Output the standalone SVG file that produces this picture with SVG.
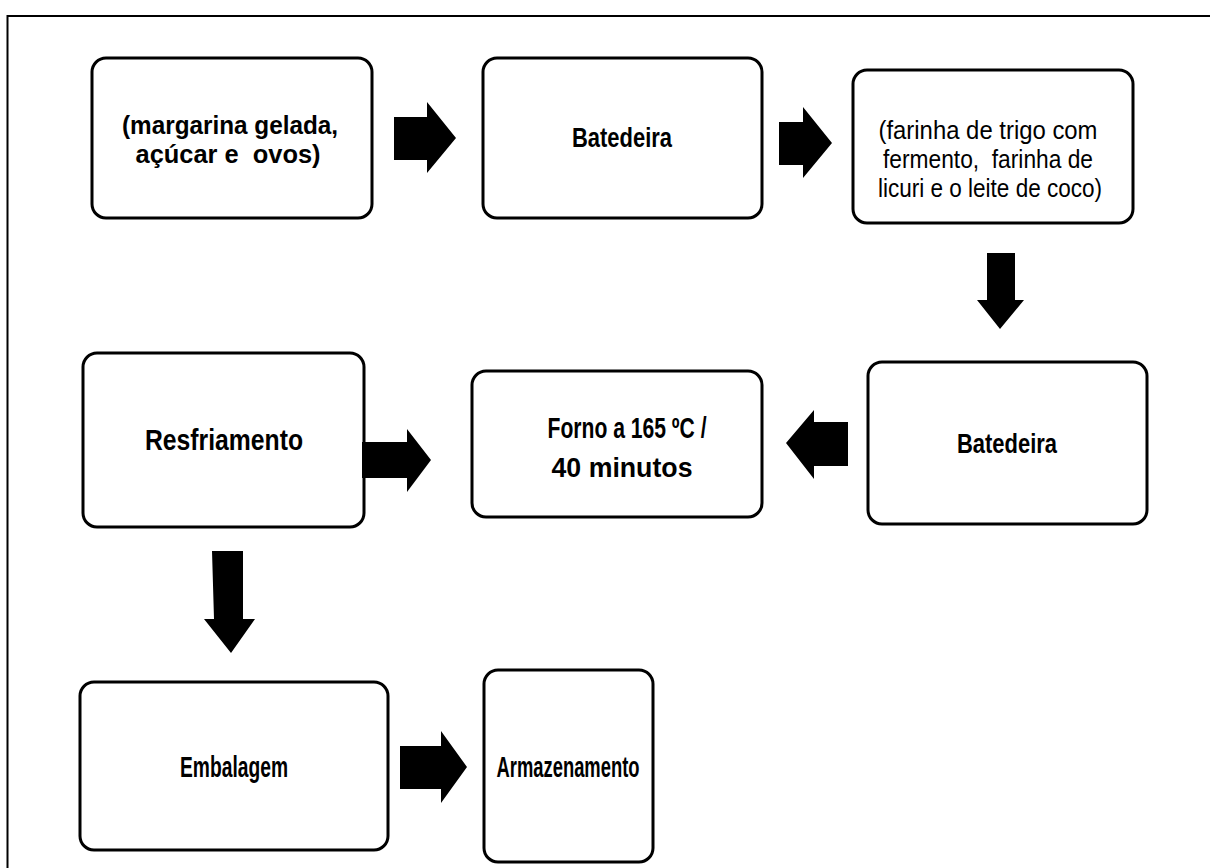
<svg xmlns="http://www.w3.org/2000/svg" width="1210" height="868" viewBox="0 0 1210 868">
<style>
.box{fill:#fff;stroke:#000;stroke-width:3}
.arr{fill:#000}
text{font-family:"Liberation Sans",Arial,sans-serif;fill:#000;text-anchor:middle;white-space:pre}
.b{font-weight:bold}
</style>
<rect width="1210" height="868" fill="#fff"/>
<path d="M7.5 868 V16 H1210" fill="none" stroke="#000" stroke-width="2"/>
<g id="n1"><rect class="box" x="92" y="58" width="280" height="160" rx="14"/>
<text class="b" x="230" y="134" font-size="25" textLength="216" lengthAdjust="spacingAndGlyphs">(margarina gelada,</text>
<text class="b" x="228" y="163" font-size="25" textLength="185" lengthAdjust="spacingAndGlyphs" xml:space="preserve">açúcar e  ovos)</text></g>
<g id="n2"><rect class="box" x="483" y="58" width="279" height="160" rx="14"/>
<text class="b" x="622" y="147" font-size="28" textLength="100" lengthAdjust="spacingAndGlyphs">Batedeira</text></g>
<g id="n3"><rect class="box" x="853" y="70" width="280" height="153" rx="14"/>
<text x="988" y="139" font-size="26" textLength="219" lengthAdjust="spacingAndGlyphs">(farinha de trigo com</text>
<text x="988" y="168" font-size="26" textLength="210" lengthAdjust="spacingAndGlyphs" xml:space="preserve">fermento,  farinha de</text>
<text x="990" y="197" font-size="26" textLength="224" lengthAdjust="spacingAndGlyphs">licuri e o leite de coco)</text></g>
<g id="n4"><rect class="box" x="868" y="362" width="279" height="162" rx="14"/>
<text class="b" x="1007" y="453" font-size="28" textLength="100" lengthAdjust="spacingAndGlyphs">Batedeira</text></g>
<g id="n5"><rect class="box" x="472" y="371" width="290" height="146" rx="14"/>
<text class="b" x="627" y="438" font-size="29" textLength="159" lengthAdjust="spacingAndGlyphs">Forno a 165 ºC /</text>
<text class="b" x="622" y="477" font-size="28" textLength="141" lengthAdjust="spacingAndGlyphs">40 minutos</text></g>
<g id="n6"><rect class="box" x="83" y="353" width="281" height="174" rx="14"/>
<text class="b" x="224" y="450" font-size="30" textLength="158" lengthAdjust="spacingAndGlyphs">Resfriamento</text></g>
<g id="n7"><rect class="box" x="80" y="682" width="308" height="168" rx="14"/>
<text class="b" x="234" y="777" font-size="29" textLength="108" lengthAdjust="spacingAndGlyphs">Embalagem</text></g>
<g id="n8"><rect class="box" x="484" y="670" width="169" height="192" rx="14"/>
<text class="b" x="568" y="777" font-size="29" textLength="143" lengthAdjust="spacingAndGlyphs">Armazenamento</text></g>
<g id="connectors">
<polygon class="arr" points="394,117 427,117 427,102 456,138 427,173 427,160 394,160"/>
<polygon class="arr" points="779,122 803,122 803,107 832,143 803,178 803,165 779,165"/>
<polygon class="arr" points="987,253 1015,253 1015,300 1024,300 1000,329 977,300 987,300"/>
<polygon class="arr" points="848,422 814,422 814,410 786,443 814,479 814,466 848,466"/>
<polygon class="arr" points="362,442 407,442 407,429 431,460 407,492 407,478 362,478"/>
<polygon class="arr" points="212,551 243,551 243,619 255,619 231,653 204,619 214,619"/>
<polygon class="arr" points="400,746 441,746 441,731 467,767 441,803 441,789 400,789"/>
</g>
</svg>
